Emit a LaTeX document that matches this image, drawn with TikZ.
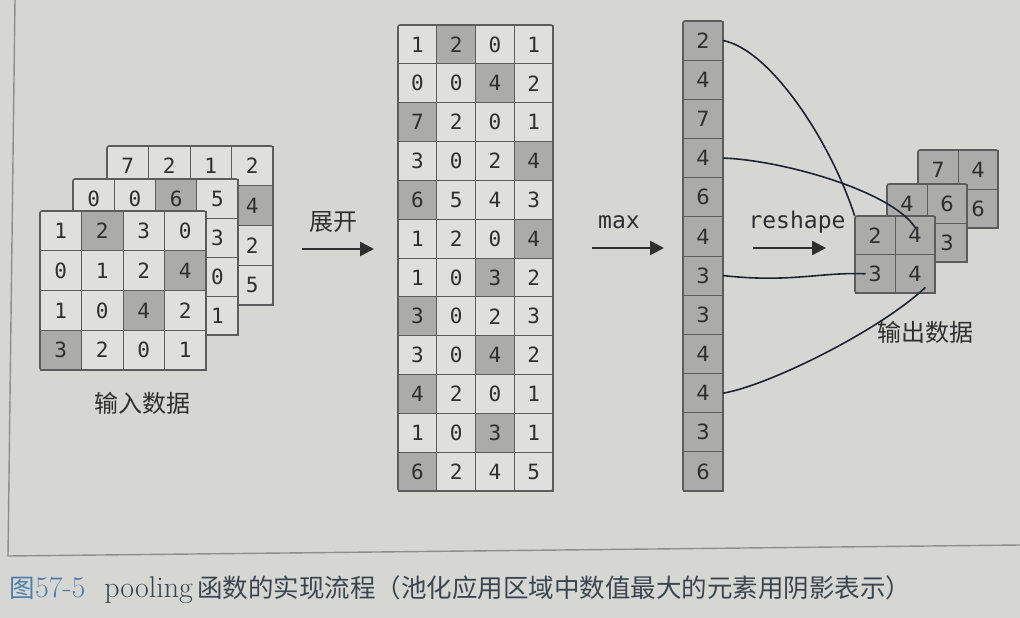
\documentclass[tikz,border=0pt]{standalone}
\usepackage{fontspec}
\newfontfamily\digitfont{DejaVu Sans Mono}
\newfontfamily\sansdigit{DejaVu Sans}
\newfontfamily\cjk{Noto Sans CJK SC}
\usetikzlibrary{arrows.meta}

\definecolor{pagebg}{HTML}{D6D6D3}
\definecolor{cellfill}{HTML}{DFDFDD}
\definecolor{hotfill}{HTML}{ABABA9}
\definecolor{gridline}{HTML}{5C5C5C}
\definecolor{digitc}{HTML}{2F2F2F}
\definecolor{penc}{HTML}{1F2233}
\definecolor{rulec}{HTML}{8E8E8C}
\definecolor{figblue}{HTML}{4A7FB0}
\definecolor{capc}{HTML}{3A4550}

\tikzset{
  cell/.style={draw=gridline, line width=0.9pt, inner sep=0pt, text=digitc,
    font=\digitfont\fontsize{21}{21}\selectfont},
  sanscell/.style={font=\sansdigit\fontsize{21}{21}\selectfont},
  lo/.style={fill=cellfill},
  hi/.style={fill=hotfill},
  gridframe/.style={draw=gridline, line width=1.6pt, rounded corners=2pt},
  bigarrow/.style={draw=digitc, line width=2.6pt, -{Triangle[length=14pt,width=14pt]}},
  steplabel/.style={text=digitc, font=\digitfont\fontsize{23}{23}\selectfont},
  cjklabel/.style={text=digitc, font=\cjk\fontsize{24}{24}\selectfont},
  pen/.style={draw=penc, line width=1.6pt, line cap=round},
}

% grid of cells: name, x, y, cell width, cell height, columns, rows, style, value/shade list
\newcommand{\drawgrid}[9]{%
  \foreach \v/\s [count=\i from 0] in {#9} {
    \pgfmathtruncatemacro{\cc}{mod(\i,#6)}
    \pgfmathtruncatemacro{\rr}{div(\i,#6)}
    \node[cell, #8, \s, minimum width=#4pt, minimum height=#5pt]
      (#1-\rr-\cc) at ({#2+(\cc+0.5)*#4}, {#3+(\rr+0.5)*#5}) {\v};
  }
  \draw[gridframe] (#2,#3) rectangle ({#2+#6*#4}, {#3+#7*#5});
}
\newcommand{\caplatin}[1]{{\rmfamily\fontsize{30}{30}\selectfont #1}}

\begin{document}
\begin{tikzpicture}[x=1pt, y=-1pt]

    % Page
    \fill[pagebg] (0,0) rectangle (1020,618);
    \useasboundingbox (0,0) rectangle (1020,618);
    \draw[rulec, line width=1.4pt] (15,0) -- (8,556) -- (1020,545);

    % Input data (three channels)
    \drawgrid{inc}{107}{146}{41.5}{39.75}{4}{4}{}{7/lo,2/lo,1/lo,2/lo, {}/lo,{}/lo,{}/lo,4/hi,
      {}/lo,{}/lo,{}/lo,2/lo, {}/lo,{}/lo,{}/lo,5/lo}
    \drawgrid{inb}{73}{179}{41.25}{39}{4}{4}{}{0/lo,0/lo,6/hi,5/lo, {}/lo,{}/lo,{}/lo,3/lo,
      {}/lo,{}/lo,{}/lo,0/lo, {}/lo,{}/lo,{}/lo,1/lo}
    \drawgrid{ina}{40}{211}{41.5}{39.75}{4}{4}{}{1/lo,2/hi,3/lo,0/lo, 0/lo,1/lo,2/lo,4/hi,
      1/lo,0/lo,4/hi,2/lo, 3/hi,2/lo,0/lo,1/lo}
    \node[cjklabel] (inlabel) at (142,403) {输入数据};

    % Unfolded windows
    \drawgrid{flat}{398}{25}{38.75}{38.83}{4}{12}{}{%
      1/lo,2/hi,0/lo,1/lo, 0/lo,0/lo,4/hi,2/lo, 7/hi,2/lo,0/lo,1/lo,
      3/lo,0/lo,2/lo,4/hi, 6/hi,5/lo,4/lo,3/lo, 1/lo,2/lo,0/lo,4/hi,
      1/lo,0/lo,3/hi,2/lo, 3/hi,0/lo,2/lo,3/lo, 3/lo,0/lo,4/hi,2/lo,
      4/hi,2/lo,0/lo,1/lo, 1/lo,0/lo,3/hi,1/lo, 6/hi,2/lo,4/lo,5/lo}

    % Max of each row
    \drawgrid{col}{683}{21}{40}{39.17}{1}{12}{sanscell}{%
      2/hi,4/hi,7/hi,4/hi,6/hi,4/hi,3/hi,3/hi,4/hi,4/hi,3/hi,6/hi}

    % Output data
    \drawgrid{outc}{918}{150}{40}{39}{2}{2}{sanscell}{7/hi,4/hi,{}/hi,6/hi}
    \drawgrid{outb}{887}{184}{40}{39}{2}{2}{sanscell}{4/hi,6/hi,{}/hi,3/hi}
    \drawgrid{outa}{855}{216}{40}{38.5}{2}{2}{sanscell}{2/hi,4/hi,3/hi,4/hi}
    \node[cjklabel] (outlabel) at (925,332) {输出数据};

    % Step arrows
    \node[cjklabel] (unfold) at (333,222) {展开};
    \coordinate (unfolds) at (302,249);
    \coordinate (unfolde) at (374,249);
    \draw[bigarrow] (unfolds) -- (unfolde);

    \node[steplabel] (maxlabel) at (619,222) {max};
    \coordinate (maxs) at (592,248);
    \coordinate (maxe) at (664,248);
    \draw[bigarrow] (maxs) -- (maxe);

    \node[steplabel] (reshapelabel) at (797,222) {reshape};
    \coordinate (reshapes) at (753,248);
    \coordinate (reshapee) at (826,248);
    \draw[bigarrow] (reshapes) -- (reshapee);

    % Hand drawn links from the column to the output
    \draw[pen] (col-0-0.east) .. controls (770,50) and (830,140) .. (outa-0-0.north west);
    \draw[pen] (col-3-0.east) .. controls (780,160) and (890,190) .. ([yshift=8pt]outa-0-1.center);
    \draw[pen] (col-6-0.east) .. controls (790,283) and (820,272) .. ([xshift=-10pt]outa-1-0.center);
    \draw[pen] (col-9-0.east) .. controls (770,385) and (880,330) .. ([xshift=10pt,yshift=-14pt]outa-1-1.center);

    % Caption
    \node[anchor=west, text=capc, font=\cjk\fontsize{25.5}{25.5}\selectfont] (caption) at (6,590)
      {{\color{figblue}图\caplatin{57-5}}\hspace{19pt}\caplatin{pooling}\,函数的实现流程（池化应用区域中数值最大的元素用阴影表示）};

\end{tikzpicture}
\end{document}
